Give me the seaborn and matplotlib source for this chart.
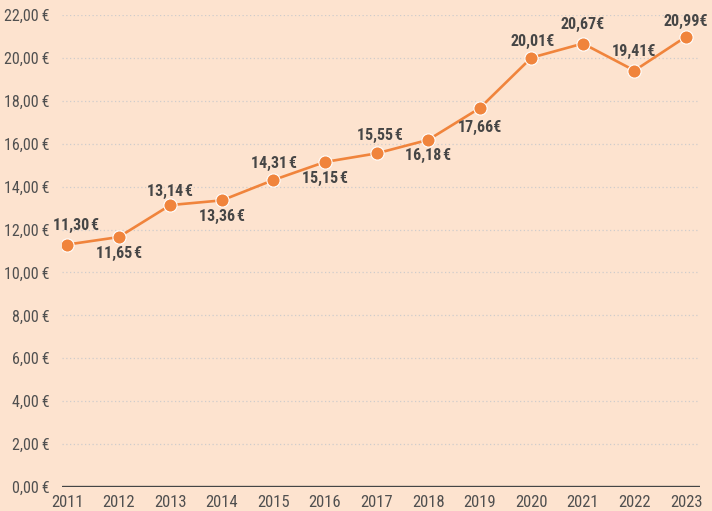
import matplotlib
matplotlib.use("Agg")
import matplotlib.pyplot as plt
import seaborn as sns
import pandas as pd

years = [2011, 2012, 2013, 2014, 2015, 2016, 2017, 2018, 2019, 2020, 2021, 2022, 2023]
values = [11.30, 11.65, 13.14, 13.36, 14.31, 15.15, 15.55, 16.18, 17.66, 20.01, 20.67, 19.41, 20.99]
labels = ["11,30\u200a€", "11,65\u200a€", "13,14\u200a€", "13,36\u200a€", "14,31\u200a€", "15,15\u200a€",
          "15,55\u200a€", "16,18\u200a€", "17,66€", "20,01€", "20,67€", "19,41€", "20,99€"]
yticks = [0, 2, 4, 6, 8, 10, 12, 14, 16, 18, 20, 22]
ytick_labels = ["0,00\u2009€", "2,00\u2009€", "4,00\u2009€", "6,00\u2009€", "8,00\u2009€", "10,00\u2009€",
                "12,00\u2009€", "14,00\u2009€", "16,00\u2009€", "18,00\u2009€", "20,00\u2009€", "22,00\u2009€"]
# label offsets (points): dx, dy
offsets = [(6.5, 14), (0, -11.5), (0, 10), (0, -11.5), (0, 12), (0, -12), (2, 13), (0, -11.5),
           (0, -14), (1, 11.5), (0, 13.5), (0, 14), (0, 11)]

BG = "#fde3cf"
ORANGE = "#f0843c"
TXT = "#505050"
FONT = ["Roboto Condensed", "DejaVu Sans"]

sns.set_theme(style="white")
plt.rcParams["font.family"] = FONT

df = pd.DataFrame({"year": years, "value": values})

fig = plt.figure(figsize=(7.12, 5.11), dpi=100, facecolor=BG)
ax = fig.add_axes([62 / 712, 1 - 487 / 511, (700 - 62) / 712, (487 - 15) / 511])
ax.set_facecolor(BG)

for y in yticks[1:]:
    ax.axhline(y, color="#cfcccc", lw=0.9, ls=(0, (1, 2)), zorder=0)

sns.lineplot(data=df, x="year", y="value", ax=ax, color=ORANGE, lw=1.9,
             marker="o", markersize=9.5, markeredgecolor="white", markeredgewidth=0.8,
             markerfacecolor=ORANGE, zorder=3)

for x, v, lab, (dx, dy) in zip(years, values, labels, offsets):
    ax.annotate(lab, (x, v), xytext=(dx, dy), textcoords="offset points",
                ha="center", va="center", fontsize=11.5, fontweight="bold", color="#464646",
                family=FONT, zorder=4)

ax.axhline(0, color="#454545", lw=2.4, zorder=2)

ax.set_xlim(2010.9, 2023.27)
ax.set_ylim(0, 22)
ax.set_yticks(yticks)
ax.set_yticklabels(ytick_labels)
ax.set_xticks(years)
ax.set_xticklabels([str(y) for y in years])
ax.tick_params(axis="y", length=0, pad=9, labelsize=11.5, labelcolor=TXT)
ax.tick_params(axis="x", length=0, pad=6, labelsize=12, labelcolor=TXT)
ax.set_xlabel("")
ax.set_ylabel("")
for s in ax.spines.values():
    s.set_visible(False)

fig.savefig("out.png", dpi=100, facecolor=BG)
